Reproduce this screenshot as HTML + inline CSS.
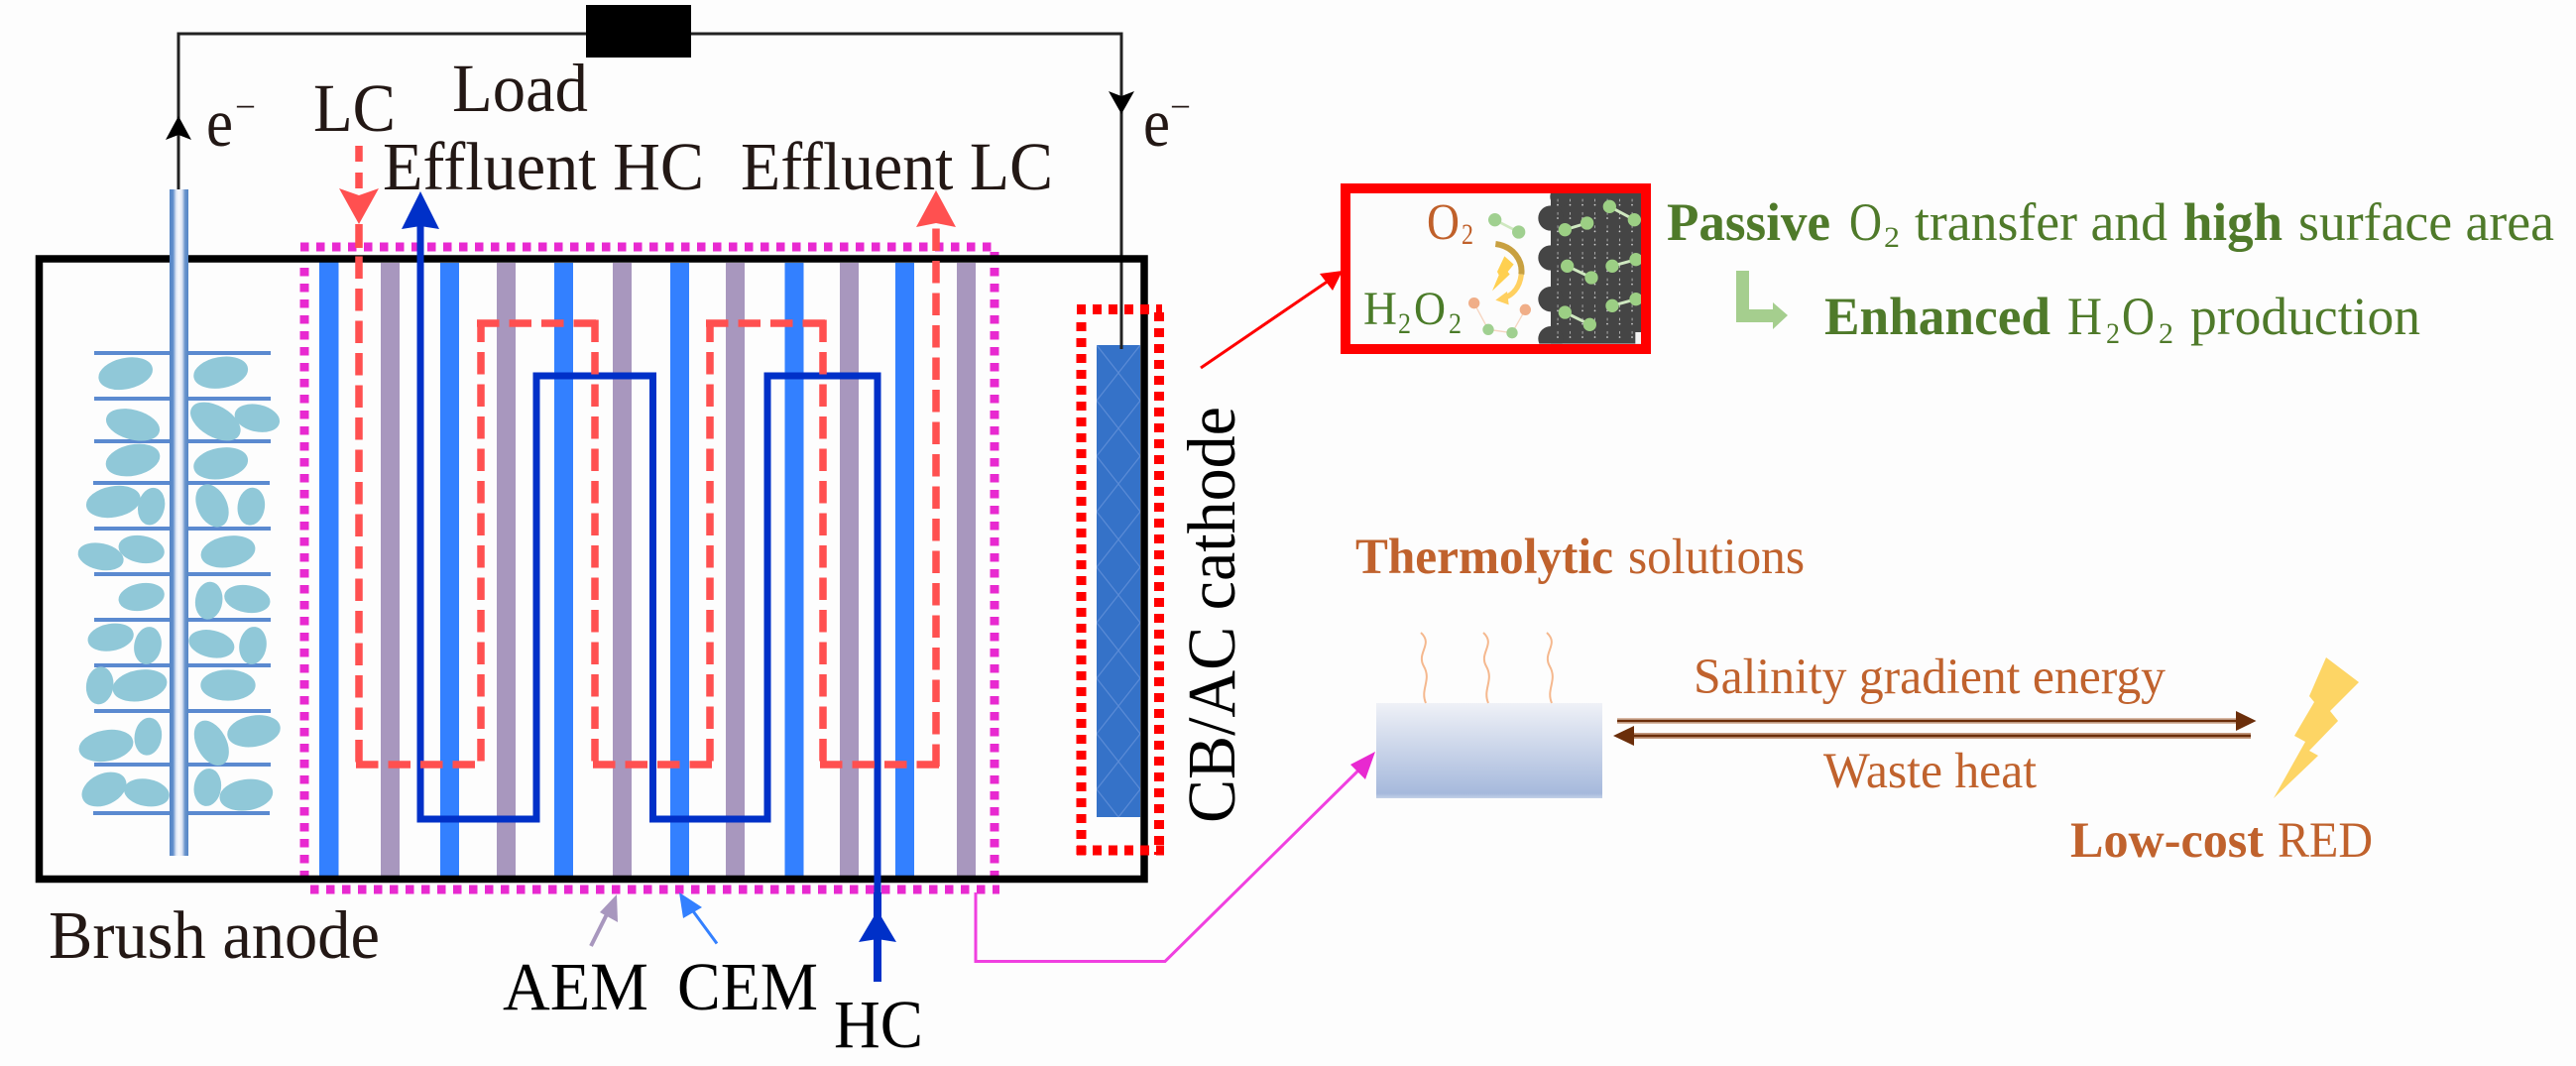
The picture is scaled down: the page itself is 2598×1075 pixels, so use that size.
<!DOCTYPE html>
<html><head><meta charset="utf-8"><style>
html,body{margin:0;padding:0;background:#fdfdfd;width:2598px;height:1075px;overflow:hidden}
svg{display:block}
text{font-family:"Liberation Serif","Times New Roman",serif}
.k{fill:#231815;font-size:69px}
.g{fill:#4f7a2a;font-size:54px}
.o{fill:#c0622d;font-size:51px}
.b{font-weight:bold}
</style></head><body>
<svg width="2598" height="1075" viewBox="0 0 2598 1075" xmlns="http://www.w3.org/2000/svg">
<defs>
<linearGradient id="sh" x1="0" x2="1" y1="0" y2="0"><stop offset="0" stop-color="#5585c5"/><stop offset=".18" stop-color="#5f8dcb"/><stop offset=".36" stop-color="#e4eaf6"/><stop offset=".5" stop-color="#f8f9fd"/><stop offset=".66" stop-color="#dfe6f4"/><stop offset=".82" stop-color="#6a94cc"/><stop offset="1" stop-color="#5585c5"/></linearGradient>
<linearGradient id="bx" x1="0" x2="0" y1="0" y2="1"><stop offset="0" stop-color="#eff1f7"/><stop offset=".95" stop-color="#a6b9dc"/><stop offset="1" stop-color="#c4d0e8"/></linearGradient>
<pattern id="hatch" x="1106" y="348" width="44" height="56" patternUnits="userSpaceOnUse"><path d="M0 0L44 56M44 0L0 56" stroke="#5a8bd6" stroke-width="1.200" fill="none"/></pattern>
<pattern id="dots" x="0" y="0" width="37.500" height="40" patternUnits="userSpaceOnUse"><rect x="17" y="12" width="2.500" height="8" fill="#bdbdbd"/><circle cx="18" cy="30" r="2.500" fill="#d5d5d5"/></pattern>
<clipPath id="inner"><rect x="600" y="75" width="345" height="455"/></clipPath>
</defs>
<rect width="2598" height="1075" fill="#fdfdfd"/>

<!-- circuit -->
<path d="M180 192V34H1131V348" fill="none" stroke="#222" stroke-width="3"/>
<rect x="591" y="5" width="106" height="53" fill="#000"/>
<polygon points="180,117 193,141 180,136 167,141" fill="#000"/>
<polygon points="1131,115 1144,92 1131,97 1118,92" fill="#000"/>

<!-- membranes -->
<g fill="#3380ff">
<rect x="322" y="262" width="19.500" height="627"/><rect x="444" y="265" width="19" height="620"/><rect x="559" y="265" width="19" height="620"/><rect x="676" y="265" width="19" height="620"/><rect x="791.500" y="265" width="19" height="620"/><rect x="903" y="265" width="19" height="620"/>
</g>
<g fill="#a897be">
<rect x="384" y="265" width="19" height="620"/><rect x="501" y="265" width="19" height="620"/><rect x="618" y="265" width="19" height="620"/><rect x="732" y="265" width="19" height="620"/><rect x="847" y="265" width="19" height="620"/><rect x="965" y="265" width="19" height="620"/>
</g>

<!-- magenta dotted region -->
<g fill="none" stroke="#e829d0" stroke-width="9">
<line x1="303" y1="249" x2="1003" y2="249" stroke-dasharray="8.500 7.500"/>
<line x1="307" y1="270" x2="307" y2="892" stroke-dasharray="8.500 7.500"/>
<line x1="1003" y1="254" x2="1003" y2="886" stroke-dasharray="8.500 7.500"/>
<line x1="313" y1="897" x2="1008" y2="897" stroke-dasharray="8.500 7.500"/>
</g>

<!-- outer cell -->
<rect x="39.500" y="261" width="1114.500" height="625.500" fill="none" stroke="#000" stroke-width="7.500"/>

<!-- HC path -->
<path d="M424 228V826H541V379H658.500V826H774V379H885V920" fill="none" stroke="#0030c8" stroke-width="7"/>
<line x1="885" y1="900" x2="885" y2="990" stroke="#0030c8" stroke-width="8"/>
<polygon points="424,193 443,231 424,228 405,231" fill="#0030c8"/>
<polygon points="885,918 904,950 885,947 866,950" fill="#0030c8"/>

<!-- LC dashed path -->
<g fill="none" stroke="#ff5050" stroke-width="7.500" stroke-dasharray="22.500 10">
<line x1="362" y1="147" x2="362" y2="190" stroke-dasharray="16 11"/>
<line x1="362" y1="226" x2="362" y2="250" stroke-dasharray="none"/>
<line x1="362" y1="258.500" x2="362" y2="775"/>
<line x1="359" y1="771" x2="482" y2="771"/>
<line x1="485" y1="322.500" x2="485" y2="775"/>
<line x1="481" y1="326" x2="604" y2="326"/>
<line x1="600" y1="322.500" x2="600" y2="775"/>
<line x1="598" y1="771" x2="720" y2="771"/>
<line x1="716" y1="322.500" x2="716" y2="775"/>
<line x1="712" y1="326" x2="834" y2="326"/>
<line x1="830" y1="322.500" x2="830" y2="775"/>
<line x1="827" y1="771" x2="948" y2="771"/>
<line x1="944" y1="230" x2="944" y2="775" stroke-dashoffset="-0.500"/>
</g>
<polygon points="342,190 362,226 382,190 362,197" fill="#ff5050"/>
<polygon points="944,192 964,229 944,225 924,229" fill="#ff5050"/>

<!-- cathode -->
<rect x="1106" y="348" width="44" height="476" fill="#3572c8"/>
<rect x="1106" y="348" width="44" height="476" fill="url(#hatch)"/>
<line x1="1131" y1="300" x2="1131" y2="352" stroke="#222" stroke-width="3"/>
<g fill="none" stroke="#ff0000" stroke-width="10">
<line x1="1086" y1="312" x2="1172" y2="312" stroke-dasharray="9 7"/>
<line x1="1090.500" y1="325" x2="1090.500" y2="862" stroke-dasharray="9 7"/>
<line x1="1169" y1="315" x2="1169" y2="862" stroke-dasharray="9 7"/>
<line x1="1086" y1="857.500" x2="1174" y2="857.500" stroke-dasharray="9 7"/>
</g>

<!-- brush anode -->
<g stroke="#5b8ad0" stroke-width="4" fill="none">
<path d="M95 356H172M190 356H273M95 402H172M190 402H273M95 445H172M190 445H273M94 487H172M190 487H272M95 533H172M190 533H273M95 579H172M190 579H273M95 625H172M190 625H273M95 671H172M190 671H273M95 717H172M190 717H273M95 771H172M190 771H273M94 820H172M190 820H272"/>
</g>
<rect x="171" y="191" width="19" height="672" fill="url(#sh)"/>
<g fill="#90c8d8" stroke="#90c8d8" stroke-width="6" transform="translate(60,340) scale(.33333)">
<ellipse cx="200" cy="110" rx="80" ry="44" transform="rotate(-12 200 110)"/>
<ellipse cx="488" cy="107" rx="80" ry="44" transform="rotate(-10 488 107)"/>
<ellipse cx="222" cy="265" rx="80" ry="42" transform="rotate(15 222 265)"/>
<ellipse cx="472" cy="255" rx="80" ry="44" transform="rotate(30 472 255)"/>
<ellipse cx="598" cy="245" rx="66" ry="38" transform="rotate(12 598 245)"/>
<ellipse cx="222" cy="372" rx="80" ry="44" transform="rotate(-12 222 372)"/>
<ellipse cx="488" cy="382" rx="80" ry="44" transform="rotate(-10 488 382)"/>
<ellipse cx="163" cy="498" rx="80" ry="44" transform="rotate(-10 163 498)"/>
<ellipse cx="278" cy="512" rx="37" ry="54" transform="rotate(12 278 512)"/>
<ellipse cx="462" cy="510" rx="42" ry="65" transform="rotate(-25 462 510)"/>
<ellipse cx="580" cy="512" rx="38" ry="54" transform="rotate(8 580 512)"/>
<ellipse cx="125" cy="664" rx="67" ry="37" transform="rotate(12 125 664)"/>
<ellipse cx="248" cy="642" rx="67" ry="38" transform="rotate(10 248 642)"/>
<ellipse cx="510" cy="649" rx="80" ry="44" transform="rotate(-10 510 649)"/>
</g>
<g fill="#90c8d8" stroke="#90c8d8" stroke-width="6" transform="translate(60,580) scale(.33333)">
<ellipse cx="248" cy="66" rx="67" ry="38" transform="rotate(-10 248 66)"/>
<ellipse cx="452" cy="77" rx="38" ry="54" transform="rotate(8 452 77)"/>
<ellipse cx="568" cy="72" rx="67" ry="38" transform="rotate(10 568 72)"/>
<ellipse cx="155" cy="188" rx="67" ry="38" transform="rotate(-10 155 188)"/>
<ellipse cx="267" cy="213" rx="38" ry="54" transform="rotate(10 267 213)"/>
<ellipse cx="460" cy="208" rx="67" ry="38" transform="rotate(12 460 208)"/>
<ellipse cx="585" cy="213" rx="38" ry="54" transform="rotate(8 585 213)"/>
<ellipse cx="122" cy="334" rx="38" ry="54" transform="rotate(8 122 334)"/>
<ellipse cx="243" cy="334" rx="80" ry="44" transform="rotate(-10 243 334)"/>
<ellipse cx="510" cy="333" rx="80" ry="44"/>
<ellipse cx="141" cy="516" rx="80" ry="44" transform="rotate(-10 141 516)"/>
<ellipse cx="268" cy="488" rx="38" ry="54" transform="rotate(8 268 488)"/>
<ellipse cx="460" cy="508" rx="42" ry="70" transform="rotate(-28 460 508)"/>
<ellipse cx="588" cy="472" rx="78" ry="44" transform="rotate(-10 588 472)"/>
<ellipse cx="135" cy="648" rx="68" ry="44" transform="rotate(-25 135 648)"/>
<ellipse cx="264" cy="658" rx="66" ry="38" transform="rotate(10 264 658)"/>
<ellipse cx="448" cy="642" rx="38" ry="54" transform="rotate(8 448 642)"/>
<ellipse cx="565" cy="665" rx="78" ry="44" transform="rotate(-8 565 665)"/>
</g>

<!-- small pointer arrows -->
<line x1="596" y1="954" x2="619" y2="908" stroke="#a897be" stroke-width="4"/>
<polygon points="622,902 623,930 605,920" fill="#a897be"/>
<line x1="723" y1="951.500" x2="691" y2="908" stroke="#3380ff" stroke-width="3"/>
<polygon points="685,900 708,915 689,926" fill="#3380ff"/>
<line x1="1211" y1="371" x2="1340" y2="283" stroke="#ff0000" stroke-width="3"/>
<polygon points="1354,273 1344,293 1331,276" fill="#ff0000"/>
<path d="M984 900V969.500H1175L1375 772" fill="none" stroke="#f040e0" stroke-width="3"/>
<polygon points="1387,758 1377,786 1362,771" fill="#e829d0"/>

<!-- labels left -->
<text class="k" x="456" y="112" textLength="137" lengthAdjust="spacingAndGlyphs">Load</text>
<text class="k" x="316" y="132" textLength="83" lengthAdjust="spacingAndGlyphs">LC</text>
<text class="k" x="386" y="191" textLength="324" lengthAdjust="spacingAndGlyphs">Effluent HC</text>
<text class="k" x="747" y="191" textLength="315" lengthAdjust="spacingAndGlyphs">Effluent LC</text>
<text class="k" x="208" y="147" textLength="27" lengthAdjust="spacingAndGlyphs">e</text>
<text class="k" x="237" y="120" style="font-size:37px" textLength="21" lengthAdjust="spacingAndGlyphs">−</text>
<text class="k" x="1153" y="147" textLength="27" lengthAdjust="spacingAndGlyphs">e</text>
<text class="k" x="1180" y="120" style="font-size:37px" textLength="21" lengthAdjust="spacingAndGlyphs">−</text>
<text class="k" x="49" y="966" textLength="334" lengthAdjust="spacingAndGlyphs">Brush anode</text>
<text x="507" y="1018" font-size="69" fill="#000" textLength="147" lengthAdjust="spacingAndGlyphs">AEM</text>
<text x="683" y="1018" font-size="69" fill="#000" textLength="142" lengthAdjust="spacingAndGlyphs">CEM</text>
<text x="841" y="1056" font-size="69" fill="#000" textLength="90" lengthAdjust="spacingAndGlyphs">HC</text>
<text x="0" y="0" font-size="69" fill="#000" transform="translate(1245,830) rotate(-90)" textLength="420" lengthAdjust="spacingAndGlyphs">CB/AC cathode</text>

<!-- red zoom box -->
<g transform="translate(1340,170) scale(.33333)">
<rect x="50" y="60" width="907" height="490" fill="#fcfcfc"/>
<g clip-path="url(#inner)">
<rect x="672" y="60" width="290" height="480" fill="#454545"/>
<circle cx="672" cy="150" r="38" fill="#454545"/><circle cx="672" cy="270" r="38" fill="#454545"/><circle cx="672" cy="395" r="38" fill="#454545"/><circle cx="672" cy="515" r="38" fill="#454545"/>
<circle cx="700" cy="85" r="30" fill="#454545"/>
<rect x="672" y="75" width="273" height="455" fill="url(#dots)"/>
<rect x="928" y="495" width="17" height="35" fill="#f4f4f4"/>
<g stroke="#cfe8c0" stroke-width="9" fill="none">
<path d="M715 185L782 165M850 115L925 155M722 295L795 330M858 295L930 275M858 415L930 395M715 435L790 472"/>
</g>
<g fill="#9ccf84">
<circle cx="715" cy="185" r="20"/><circle cx="782" cy="165" r="20"/><circle cx="850" cy="115" r="20"/><circle cx="925" cy="155" r="20"/><circle cx="722" cy="295" r="20"/><circle cx="795" cy="330" r="20"/><circle cx="858" cy="295" r="20"/><circle cx="930" cy="275" r="20"/><circle cx="858" cy="415" r="20"/><circle cx="930" cy="395" r="20"/><circle cx="715" cy="435" r="20"/><circle cx="790" cy="472" r="20"/>
</g>
</g>
<path d="M503 155L575 192" stroke="#cfe8c0" stroke-width="8" fill="none"/>
<circle cx="503" cy="155" r="20" fill="#a0d090"/><circle cx="575" cy="192" r="20" fill="#a0d090"/>
<path d="M440 407L483 487L555 497L595 427" stroke="#f6d5c0" stroke-width="4" fill="none"/>
<circle cx="440" cy="407" r="17" fill="#f0ae88"/><circle cx="595" cy="427" r="17" fill="#f0ae88"/>
<circle cx="483" cy="487" r="17" fill="#a0d090"/><circle cx="555" cy="497" r="17" fill="#a0d090"/>
<path d="M505 228C560 235 588 280 583 320" stroke="#c8a040" stroke-width="18" fill="none"/>
<path d="M583 320C578 362 555 385 525 393" stroke="#ffd060" stroke-width="16" fill="none"/>
<polygon points="505,398 540,372 545,412" fill="#ffd060"/>
<polygon points="532,265 560,290 542,312 548,320 495,370 515,322 510,312" fill="#ffd050"/>
</g>
<rect x="1357" y="190" width="303" height="162" fill="none" stroke="#ff0000" stroke-width="10"/>
<text x="1439" y="241" fill="#c0602a" style="font-size:52px" textLength="33" lengthAdjust="spacingAndGlyphs">O</text>
<text x="1474" y="246" fill="#c0602a" style="font-size:30px" textLength="12" lengthAdjust="spacingAndGlyphs">2</text>
<text x="1375" y="327" fill="#4a7b28" style="font-size:48px" textLength="34" lengthAdjust="spacingAndGlyphs">H</text>
<text x="1410" y="336" fill="#4a7b28" style="font-size:30px" textLength="13" lengthAdjust="spacingAndGlyphs">2</text>
<text x="1426" y="327" fill="#4a7b28" style="font-size:48px" textLength="32" lengthAdjust="spacingAndGlyphs">O</text>
<text x="1461" y="336" fill="#4a7b28" style="font-size:30px" textLength="13" lengthAdjust="spacingAndGlyphs">2</text>

<!-- green text -->
<text class="g b" x="1681" y="242" textLength="165" lengthAdjust="spacingAndGlyphs">Passive</text>
<text class="g" x="1865" y="242" textLength="33" lengthAdjust="spacingAndGlyphs">O</text>
<text class="g" x="1900" y="249" style="font-size:30px" textLength="16" lengthAdjust="spacingAndGlyphs">2</text>
<text class="g" x="1931" y="242" textLength="255" lengthAdjust="spacingAndGlyphs">transfer and</text>
<text class="g b" x="2202" y="242" textLength="100" lengthAdjust="spacingAndGlyphs">high</text>
<text class="g" x="2318" y="242" textLength="258" lengthAdjust="spacingAndGlyphs">surface area</text>
<text class="g b" x="1840" y="337" textLength="228" lengthAdjust="spacingAndGlyphs">Enhanced</text>
<text class="g" x="2085" y="337" textLength="35" lengthAdjust="spacingAndGlyphs">H</text>
<text class="g" x="2124" y="346" style="font-size:30px" textLength="14" lengthAdjust="spacingAndGlyphs">2</text>
<text class="g" x="2140" y="337" textLength="33" lengthAdjust="spacingAndGlyphs">O</text>
<text class="g" x="2177" y="346" style="font-size:30px" textLength="15" lengthAdjust="spacingAndGlyphs">2</text>
<text class="g" x="2209" y="337" textLength="232" lengthAdjust="spacingAndGlyphs">production</text>
<polygon points="1751,273 1764,273 1764,312 1788,312 1788,305 1803,318 1788,332 1788,325 1751,325" fill="#a5ce8e"/>

<!-- thermolytic -->
<text class="o b" x="1367" y="578" textLength="260" lengthAdjust="spacingAndGlyphs">Thermolytic</text>
<text class="o" x="1642" y="578" textLength="178" lengthAdjust="spacingAndGlyphs">solutions</text>
<rect x="1388" y="709" width="228" height="96" fill="url(#bx)"/>
<g fill="none" stroke="#f5b88e" stroke-width="2">
<path d="M1433 638C1446 650 1428 658 1436 672C1444 686 1432 695 1438 709"/>
<path d="M1496 638C1509 650 1491 658 1499 672C1507 686 1495 695 1501 709"/>
<path d="M1560 638C1573 650 1555 658 1563 672C1571 686 1559 695 1565 709"/>
</g>
<line x1="1631" y1="727" x2="2258" y2="727" stroke="#d8b8a4" stroke-width="6"/>
<line x1="1631" y1="727" x2="2258" y2="727" stroke="#6b2e0a" stroke-width="2.500"/>
<polygon points="2255,717 2275.500,727 2255,737" fill="#6b2e0a"/>
<line x1="1645" y1="742" x2="2270" y2="742" stroke="#c49a80" stroke-width="6"/>
<line x1="1645" y1="742" x2="2270" y2="742" stroke="#6b2e0a" stroke-width="2.500"/>
<polygon points="1648,732 1627,742 1648,752" fill="#6b2e0a"/>
<text class="o" x="1708" y="699" textLength="476" lengthAdjust="spacingAndGlyphs">Salinity gradient energy</text>
<text class="o" x="1839" y="794" textLength="215" lengthAdjust="spacingAndGlyphs">Waste heat</text>
<text class="o b" x="2088" y="864" textLength="195" lengthAdjust="spacingAndGlyphs">Low-cost</text>
<text class="o" x="2297" y="864" textLength="96" lengthAdjust="spacingAndGlyphs">RED</text>
<polygon points="2346,663 2379,688 2350,717 2358,727 2329,757 2338,762 2293,805 2325,748 2314,742 2334,708 2329,702" fill="#fdd565"/>
</svg>
</body></html>
